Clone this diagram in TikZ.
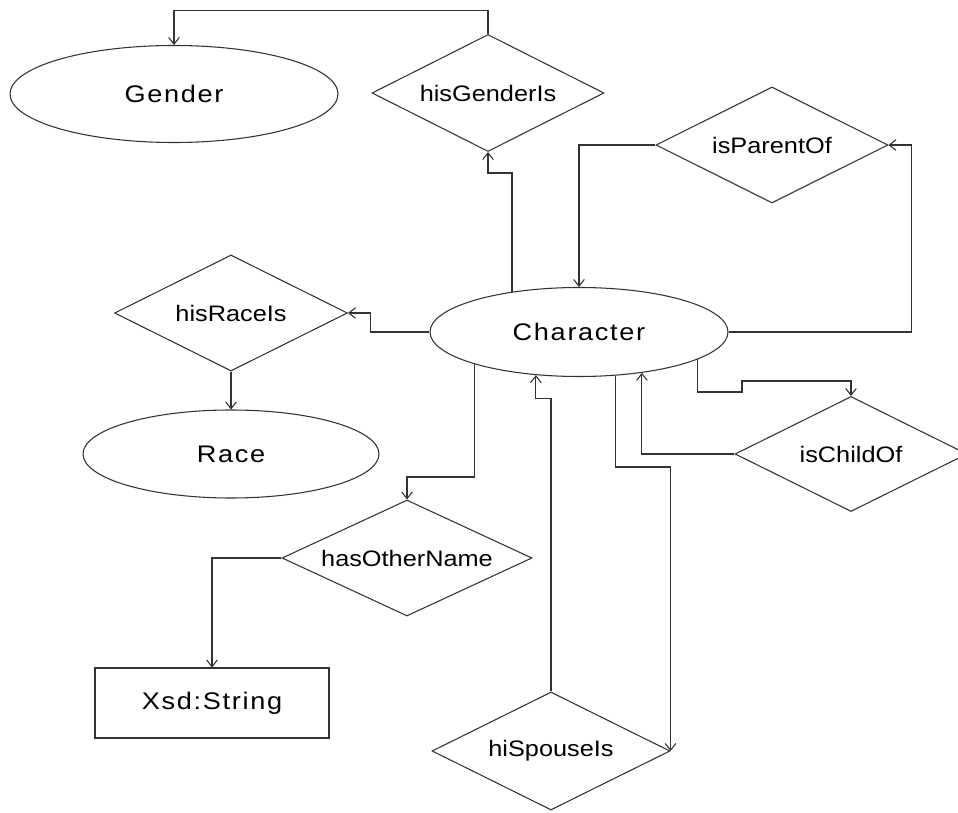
\documentclass[tikz,border=0pt]{standalone}
\usepackage{fontspec}
\setmainfont[FakeStretch=1.13]{Liberation Sans}
\newfontfamily\entfont[FakeStretch=1.13,LetterSpace=7]{Liberation Sans}
\usetikzlibrary{shapes.geometric,arrows.meta}
\tikzset{
  ent/.style={ellipse,draw=black!80,line width=0.8pt,inner sep=0pt,
    font=\entfont\fontsize{18}{20}\selectfont},
  rel/.style={diamond,aspect=2,draw=black!80,line width=0.8pt,inner sep=0pt,
    font=\fontsize{16.8}{19}\selectfont},
  lit/.style={rectangle,draw=black!80,line width=0.8pt,inner sep=0pt,
    font=\entfont\fontsize{18}{20}\selectfont}
}
\def\link{\draw[black!80,line width=0.8pt,-{Straight Barb[length=5pt,width=8pt]}]}

\begin{document}
\begin{tikzpicture}[x=0.75pt,y=0.75pt]
    \useasboundingbox (0,0) rectangle (958,-813);
    \node[ent,minimum width=246pt,minimum height=72.75pt] (gender) at (174,-94) {Gender};
    \node[ent,minimum width=223.5pt,minimum height=66.75pt] (character) at (579,-332) {Character};
    \node[ent,minimum width=222pt,minimum height=66pt] (race) at (231,-454) {Race};
    \node[lit,minimum width=175.5pt,minimum height=52.5pt] (xsd) at (212,-703) {Xsd:String};
    \node[rel,minimum width=174pt,minimum height=87.75pt] (genderis) at (488,-93) {hisGenderIs};
    \node[rel,minimum width=174pt,minimum height=87pt] (parentof) at (772,-145) {isParentOf};
    \node[rel,minimum width=174.75pt,minimum height=87pt] (raceis) at (231,-313) {hisRaceIs};
    \node[rel,minimum width=187.5pt,minimum height=87pt] (othername) at (407,-558) {hasOtherName};
    \node[rel,minimum width=174pt,minimum height=86.25pt] (childof) at (851,-454) {isChildOf};
    \node[rel,minimum width=178.5pt,minimum height=88.5pt] (spouse) at (551,-751) {hiSpouseIs};

    \link (genderis.north) -- ++(0,23) -| (gender.north);
    \link (character.149) -- (character.149 |- 0,-173) -| (genderis.south);
    \link (parentof.west) -| (character.north);
    \link (character.east) -- ++(183,0) |- (parentof.east);
    \link (character.west) -- ++(-59,0) |- (raceis.east);
    \link (raceis.south) -- (race.north);
    \link (character.197) -- (character.197 |- 0,-477) -| (othername.north);
    \link (othername.west) -| (xsd.north);
    \link (spouse.north) -- ++(0,293) -| (character.225);
    \link (character.310) -- (character.310 |- 0,-467) -| (spouse.east);
    \link (childof.west) -| (character.327);
    \link (character.347) |- (742,-392) -- (742,-381) -| (childof.north);
\end{tikzpicture}
\end{document}
